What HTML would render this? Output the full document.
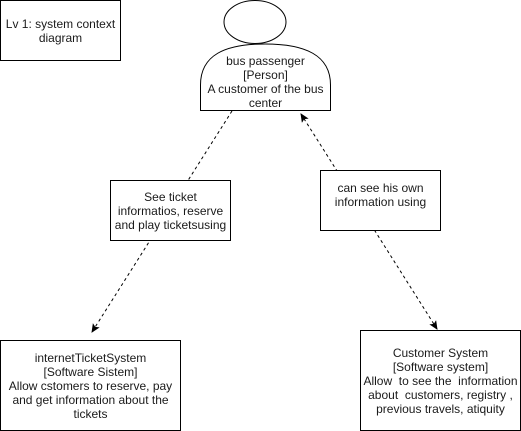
<!DOCTYPE html>
<html><head><style>
html,body{margin:0;padding:0;background:#fff;}
body{width:521px;height:431px;position:relative;overflow:hidden;font-family:"Liberation Sans",Arial,sans-serif;font-size:12px;color:#1a1a1a;}
.b{position:absolute;box-sizing:border-box;border:1px solid #000;background:#fff;display:flex;align-items:center;justify-content:center;text-align:center;line-height:14px;}
svg{position:absolute;left:0;top:0;}
</style></head><body>
<svg width="521" height="431">
<defs><marker id="a" markerWidth="10" markerHeight="10" refX="8" refY="4" orient="auto-start-reverse" markerUnits="userSpaceOnUse"><path d="M0,0 L9,4 L0,8 L2,4 Z" fill="#000"/></marker></defs>
<ellipse cx="255" cy="22" rx="31" ry="21.5" fill="#fff" stroke="#000"/>
<path d="M200.5,110.5 L200.5,85 C200.5,55 225,44 265,44 C305,44 330.5,55 330.5,85 L330.5,110.5 Z" fill="#fff" stroke="#000"/>
<line x1="232" y1="111" x2="92" y2="332" stroke="#000" stroke-dasharray="3,3" marker-end="url(#a)"/>
<line x1="437" y1="329" x2="301" y2="114" stroke="#000" stroke-dasharray="3,3" marker-start="url(#a)" marker-end="url(#a)"/>
</svg>
<div style="position:absolute;left:200px;top:54px;width:131px;text-align:center;line-height:14px;">bus passenger<br>[Person]<br>A customer of the bus center</div>
<div class="b" style="left:0;top:0;width:121px;height:61px;">Lv 1: system context diagram</div>
<div class="b" style="left:110px;top:180px;width:121px;height:61px;">See ticket<br>informatios, reserve<br>and play ticketsusing</div>
<div class="b" style="left:320px;top:170px;width:121px;height:61px;padding-bottom:12px;">can see his own<br>information using</div>
<div class="b" style="left:0;top:340px;width:181px;height:91px;">internetTicketSystem<br>[Software Sistem]<br>Allow cstomers to reserve, pay and get information about the tickets</div>
<div class="b" style="left:360px;top:330px;width:161px;height:101px;">Customer System<br>[Software system]<br>Allow&nbsp; to see the&nbsp; information about&nbsp; customers, registry , previous travels, atiquity</div>
</body></html>
